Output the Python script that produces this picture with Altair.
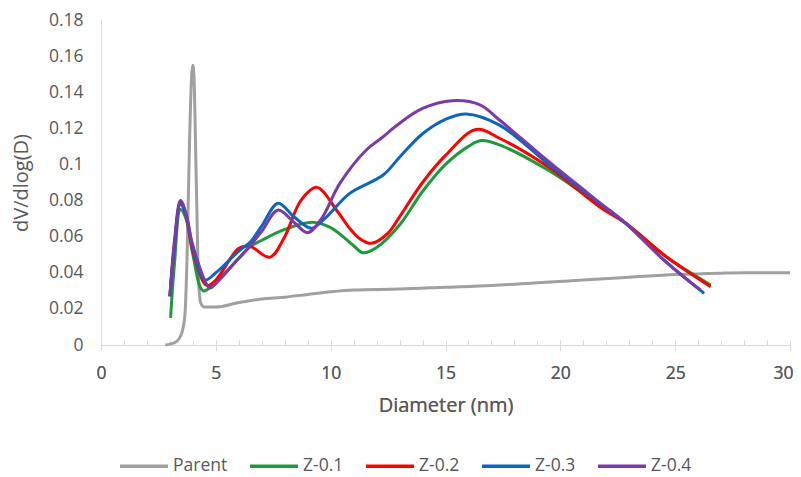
import altair as alt
import pandas as pd

parent_x = [2.8, 3.0, 3.3, 3.5, 3.65, 3.75, 3.85, 3.95, 4.0, 4.05, 4.15, 4.25, 4.35, 4.5, 5.0, 6.0, 7.0, 8.0, 9.0, 10.0, 11.0, 13.0, 15.0, 17.0, 19.0, 21.0, 23.0, 25.0, 27.0, 28.0, 30.0]
parent_y = [0.0, 0.0005, 0.002, 0.006, 0.016, 0.05, 0.11, 0.15, 0.155, 0.148, 0.09, 0.035, 0.023, 0.021, 0.021, 0.0235, 0.0255, 0.0265, 0.028, 0.0295, 0.0305, 0.031, 0.032, 0.033, 0.0345, 0.036, 0.0375, 0.039, 0.0398, 0.040, 0.040]

z1_x = [3.03, 3.2, 3.46, 3.7, 4.0, 4.45, 5.0, 6.0, 6.5, 7.0, 8.0, 9.2, 10.0, 11.0, 11.4, 12.0, 13.0, 14.0, 15.0, 16.0, 16.55, 17.35, 19.5, 21.7, 22.85, 24.6, 26.55]
z1_y = [0.015, 0.045, 0.075, 0.07, 0.05, 0.030, 0.035, 0.048, 0.0545, 0.058, 0.064, 0.068, 0.065, 0.055, 0.0511, 0.054, 0.0665, 0.085, 0.100, 0.110, 0.1132, 0.1108, 0.0966, 0.0775, 0.0674, 0.049, 0.0332]

z2_x = [3.0, 3.2, 3.46, 3.7, 4.0, 4.6, 5.0, 6.0, 6.5, 7.35, 8.0, 8.7, 9.4, 10.25, 10.83, 11.26, 11.77, 12.5, 13.0, 14.0, 15.0, 16.33, 17.35, 19.5, 21.7, 22.85, 24.6, 26.55]
z2_y = [0.027, 0.055, 0.079, 0.072, 0.052, 0.033, 0.036, 0.0535, 0.0545, 0.0486, 0.060, 0.080, 0.0873, 0.0748, 0.0646, 0.059, 0.0563, 0.062, 0.071, 0.090, 0.105, 0.1194, 0.1145, 0.0984, 0.0766, 0.0674, 0.049, 0.0323]

z3_x = [3.0, 3.2, 3.46, 3.7, 4.0, 4.52, 5.0, 6.0, 6.5, 7.0, 7.71, 8.4, 9.16, 9.74, 10.83, 12.27, 13.0, 14.0, 15.0, 15.9, 17.35, 19.5, 21.7, 22.85, 24.6, 26.26]
z3_y = [0.027, 0.055, 0.078, 0.072, 0.054, 0.036, 0.040, 0.052, 0.057, 0.066, 0.0785, 0.071, 0.0646, 0.070, 0.084, 0.094, 0.104, 0.117, 0.125, 0.128, 0.1218, 0.1000, 0.0785, 0.0674, 0.046, 0.0286]

z4_x = [3.0, 3.2, 3.46, 3.7, 4.0, 4.74, 5.0, 6.0, 6.5, 7.0, 7.71, 8.4, 9.0, 9.6, 10.4, 11.55, 12.2, 13.0, 14.0, 15.3, 16.5, 17.35, 19.5, 21.7, 22.85, 24.6, 26.1]
z4_y = [0.027, 0.058, 0.080, 0.073, 0.055, 0.0316, 0.034, 0.048, 0.055, 0.063, 0.0748, 0.068, 0.0622, 0.070, 0.0895, 0.108, 0.1145, 0.1228, 0.131, 0.1353, 0.133, 0.1246, 0.1015, 0.079, 0.0674, 0.046, 0.0305]

series_names = ["Parent", "Z-0.1", "Z-0.2", "Z-0.3", "Z-0.4"]
series_colors = ["#A0A0A0", "#1E9A3C", "#FF0000", "#0A66C2", "#7A3BA8"]
x_ticks = [0, 5, 10, 15, 20, 25, 30]
x_minor = list(range(0, 31))
y_ticks = [0, 0.02, 0.04, 0.06, 0.08, 0.1, 0.12, 0.14, 0.16, 0.18]

rows = []
for name, xs, ys in zip(series_names,
                        [parent_x, z1_x, z2_x, z3_x, z4_x],
                        [parent_y, z1_y, z2_y, z3_y, z4_y]):
    for i, (a, b) in enumerate(zip(xs, ys)):
        rows.append({"series": name, "D": a, "v": b, "order": i})
df = pd.DataFrame(rows)

FONT = "Open Sans"
TXT = "#595959"
AX = "#D9D9D9"

xscale = alt.Scale(domain=[0, 30], nice=False, zero=True)
yscale = alt.Scale(domain=[0, 0.18], nice=False)

x_main = alt.X("D:Q", scale=xscale,
               axis=alt.Axis(values=x_ticks, title="Diameter (nm)", grid=False, orient="bottom",
                             tickSize=5, tickColor=AX, domainColor=AX,
                             labelPadding=14, titlePadding=14, labelFlush=False,
                             labelAlign=alt.ExprRef(expr="datum.value === 30 ? 'right' : 'center'"),
                             labelOffset=alt.ExprRef(expr="datum.value === 30 ? 3 : 0")))
y_main = alt.Y("v:Q", scale=yscale,
               axis=alt.Axis(values=y_ticks, title="dV/dlog(D)", grid=False,
                             ticks=False, domainColor=AX, labelPadding=18,
                             titlePadding=17, labelExpr="format(datum.value, '.2~f')"))
color = alt.Color("series:N", scale=alt.Scale(domain=series_names, range=series_colors),
                  legend=alt.Legend(title=None, orient="none", direction="horizontal",
                                    columns=5, legendX=17, legendY=420,
                                    symbolType="stroke", symbolSize=2304,
                                    symbolStrokeWidth=3.5, labelOffset=3,
                                    columnPadding=15, labelFontSize=17.5,
                                    labelColor=TXT, labelFont=FONT))

base = alt.Chart(df)

parent_line = base.transform_filter(alt.datum.series == "Parent").mark_line(
    interpolate="monotone", strokeWidth=3).encode(
    x=x_main, y=y_main, color=color, order="order:Q")

z_lines = base.transform_filter(alt.datum.series != "Parent").mark_line(
    interpolate="catmull-rom", strokeWidth=3).encode(
    x=x_main, y=y_main, color=color, order="order:Q")

minor = base.mark_line(opacity=0).encode(
    x=alt.X("D:Q", scale=xscale,
            axis=alt.Axis(values=x_minor, title=None, labels=False, domain=False, orient="bottom",
                          grid=False, tickSize=5, tickColor=AX, offset=-5)),
    y=y_main,
    detail="series:N",
)

chart = alt.layer(parent_line, z_lines, minor).resolve_axis(x="independent").properties(
    width=689, height=325,
    autosize=alt.AutoSizeParams(type="none"),
    padding={"left": 93, "top": 12, "right": 3, "bottom": 132},
).configure_axis(
    labelFont=FONT, titleFont=FONT, labelFontSize=17.5, titleFontSize=20,
    labelColor=TXT, titleColor=TXT, titleFontWeight="normal",
).configure_view(stroke=None)

chart.save("out.html", embed_options={"renderer": "svg", "actions": False})
